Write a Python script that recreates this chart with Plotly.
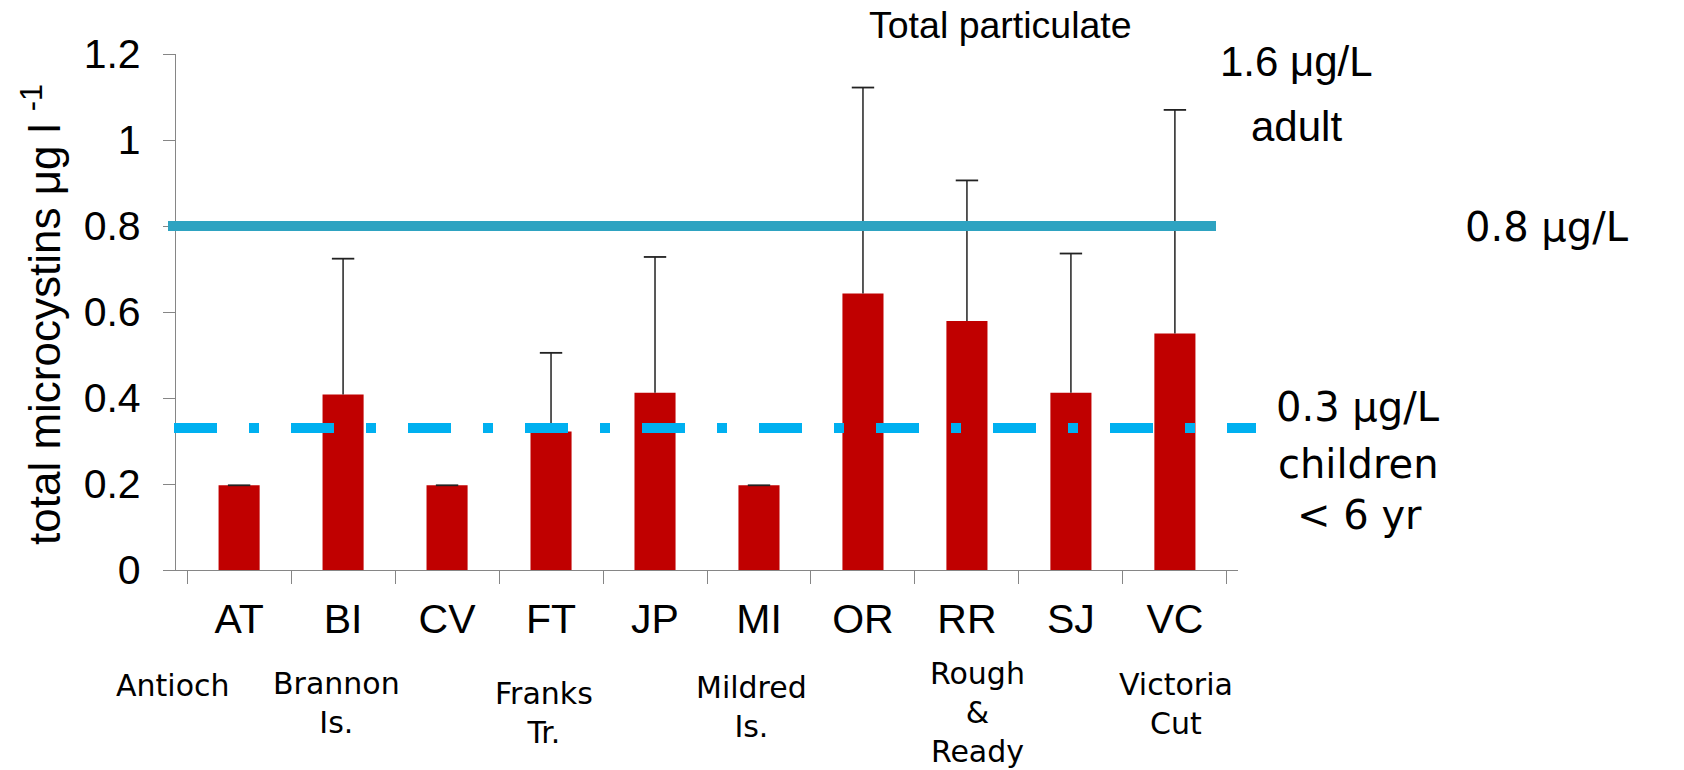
import plotly.graph_objects as go

# ---- data ----
sites = ["AT", "BI", "CV", "FT", "JP", "MI", "OR", "RR", "SJ", "VC"]
mean_microcystins = [0.197, 0.408, 0.197, 0.322, 0.412, 0.197, 0.643, 0.579, 0.412, 0.550]
error_plus = [0.0, 0.316, 0.0, 0.183, 0.316, 0.0, 0.479, 0.327, 0.324, 0.520]
y_tick_values = [0, 0.2, 0.4, 0.6, 0.8, 1.0, 1.2]
y_tick_labels = ["0", "0.2", "0.4", "0.6", "0.8", "1", "1.2"]
adult_limit = [0.8]
child_limit = [0.33]
site_full_names = ["Antioch", "Brannon<br>Is.", "Franks<br>Tr.", "Mildred<br>Is.",
                   "Rough<br>&<br>Ready", "Victoria<br>Cut"]
y_title = "total microcystins μg l <sup>-1</sup>"

# ---- layout geometry (pixels) ----
W, H = 1684, 770
L, R, T, B = 176, 446, 54, 200
PW, PH = W - L - R, H - T - B


def px(x):
    return (x - L) / PW


def py(y):
    return (H - B - y) / PH


ARIAL = "Liberation Sans, Arial, sans-serif"
HUMAN = "DejaVu Sans, sans-serif"
AXIS_GREY = "#868686"
ERR_COLOR = "#222222"

fig = go.Figure()
fig.add_trace(go.Bar(
    x=sites, y=mean_microcystins,
    marker=dict(color="#C00000", line=dict(width=0)),
    showlegend=False, hoverinfo="x+y",
))

# upper error whiskers (stem from bar top to mean + error) and caps
stem_x, stem_y = [], []
for s, m, e in zip(sites, mean_microcystins, error_plus):
    stem_x += [s, s, None]
    stem_y += [m, m + e, None]
fig.add_trace(go.Scatter(
    x=stem_x, y=stem_y, mode="lines",
    line=dict(color=ERR_COLOR, width=1.5), showlegend=False, hoverinfo="skip",
))
fig.add_trace(go.Scatter(
    x=sites, y=[m + e for m, e in zip(mean_microcystins, error_plus)],
    mode="markers",
    marker=dict(symbol="line-ew", size=16, line=dict(color=ERR_COLOR, width=1.8)),
    showlegend=False, hoverinfo="skip",
))

shapes = [
    dict(type="line", xref="paper", yref="y", x0=px(168), x1=px(1216),
         y0=adult_limit[0], y1=adult_limit[0], layer="above",
         line=dict(color="#2EA3C1", width=10)),
    dict(type="line", xref="paper", yref="y", x0=px(174), x1=px(1256),
         y0=child_limit[0], y1=child_limit[0], layer="above",
         line=dict(color="#00B0F0", width=10, dash="43px,32px,10px,32px")),
]

annotations = []


def ann(text, x, y, font, size, angle=0):
    annotations.append(dict(text=text, x=px(x), y=py(y), xref="paper", yref="paper",
                            xanchor="center", yanchor="middle", showarrow=False,
                            textangle=angle, align="center",
                            font=dict(family=font, size=size, color="black")))


# y-axis title
ann(y_title, 41, 315, ARIAL, 44, angle=-90)

ann("Total particulate", 1000, 25.5, ARIAL, 37.5)
ann("1.6 μg/L", 1296, 61, ARIAL, 42)
ann("adult", 1296, 126, ARIAL, 42)
ann("0.8 μg/L", 1547, 226.5, HUMAN, 40)
ann("0.3 μg/L", 1358, 407, HUMAN, 40)
ann("children", 1358, 463.5, HUMAN, 40)
ann("&lt; 6 yr", 1359, 515, HUMAN, 40)

site_label_pos = [(173, 685), (336, 703), (544, 713), (751, 707), (977, 712), (1176, 704)]
for name, (x, y) in zip(site_full_names, site_label_pos):
    ann(name, x, y, HUMAN, 30)

fig.update_layout(
    width=W, height=H,
    margin=dict(l=L, r=R, t=T, b=B, autoexpand=False),
    paper_bgcolor="white", plot_bgcolor="white",
    bargap=0.605,
    shapes=shapes,
    annotations=annotations,
    xaxis=dict(
        type="category", showline=True, linecolor=AXIS_GREY, linewidth=1.3,
        ticks="outside", tickson="boundaries", ticklen=13, tickcolor=AXIS_GREY,
        tickwidth=1.3, showgrid=False, zeroline=False,
        tickfont=dict(family=ARIAL, size=41, color="black"),
        ticklabelstandoff=13, automargin=False,
    ),
    yaxis=dict(
        range=[0, 1.2], tickvals=y_tick_values, ticktext=y_tick_labels,
        showline=True, linecolor=AXIS_GREY, linewidth=1.3,
        ticks="outside", ticklen=12, tickcolor=AXIS_GREY, tickwidth=1.3,
        showgrid=False, zeroline=False,
        tickfont=dict(family=ARIAL, size=41, color="black"),
        ticklabelstandoff=14, automargin=False,
    ),
)

fig.write_html("out.html", config={"displayModeBar": False},
               post_script="document.body.style.margin='0';")
